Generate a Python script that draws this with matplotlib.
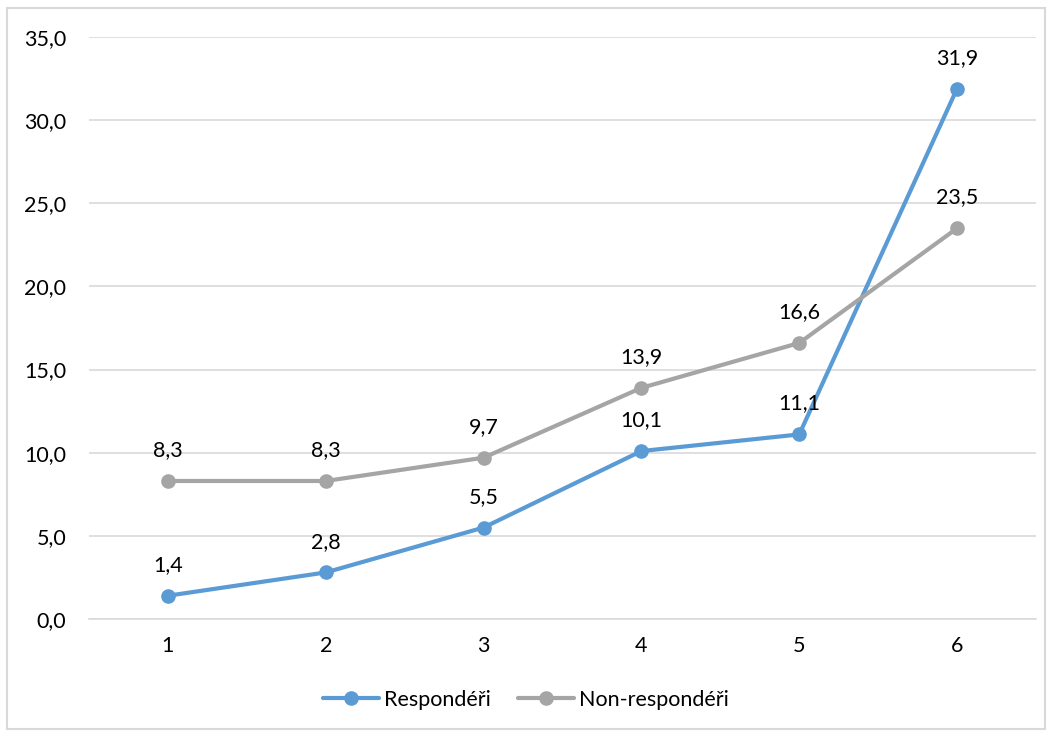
import matplotlib
matplotlib.use("Agg")
import matplotlib.pyplot as plt
from matplotlib.patches import Rectangle

categories = ["1", "2", "3", "4", "5", "6"]
respondeři = [1.4, 2.8, 5.5, 10.1, 11.1, 31.9]
non_respondeři = [8.3, 8.3, 9.7, 13.9, 16.6, 23.5]
series_names = ["Respondéři", "Non-respondéři"]
y_ticks = [0, 5, 10, 15, 20, 25, 30, 35]

plt.rcParams["font.family"] = ["Lato", "DejaVu Sans"]
FS = 15.5

W, H = 1052, 736
fig = plt.figure(figsize=(W / 100, H / 100), dpi=100)
ax = fig.add_axes([89 / W, 1 - 619 / H, (1036 - 89) / W, (619 - 37) / H])

# outer chart frame
fig.patches.append(Rectangle((7 / W, 1 - 729 / H), (1045 - 7) / W, (729 - 8) / H,
                             transform=fig.transFigure, fill=False,
                             edgecolor="#d9d9d9", linewidth=1.5))

x = list(range(1, len(categories) + 1))
colors = ["#5b9bd5", "#a5a5a5"]
for vals, name, c in [(respondeři, series_names[0], colors[0]),
                      (non_respondeři, series_names[1], colors[1])]:
    ax.plot(x, vals, color=c, linewidth=3.0, marker="o", markersize=9.5,
            label=name, solid_capstyle="round", zorder=3)
    for xi, v in zip(x, vals):
        ax.annotate(f"{v:.1f}".replace(".", ","), (xi, v), xytext=(0, 15),
                    textcoords="offset points", ha="center", va="bottom",
                    fontsize=FS, color="#000000")

ax.set_xlim(0.5, 6.5)
ax.set_ylim(0, 35)
ax.set_yticks(y_ticks)
ax.set_yticklabels([f"{t:.1f}".replace(".", ",") for t in y_ticks])
ax.set_xticks(x)
ax.set_xticklabels(categories)
ax.grid(axis="y", color="#d9d9d9", linewidth=1.2, zorder=0)
for s in ["top", "right", "left"]:
    ax.spines[s].set_visible(False)
ax.spines["bottom"].set_color("#d9d9d9")
ax.spines["bottom"].set_linewidth(1.2)
ax.tick_params(axis="both", length=0, labelsize=FS, colors="#000000")
ax.tick_params(axis="y", pad=16.5)
ax.tick_params(axis="x", pad=12)

fig.legend(loc="center", bbox_to_anchor=(0.5, 1 - 700 / H), ncol=2, frameon=False,
           fontsize=FS, handlelength=2.6, columnspacing=1.3, handletextpad=0.2)

fig.savefig("out.png", dpi=100)
